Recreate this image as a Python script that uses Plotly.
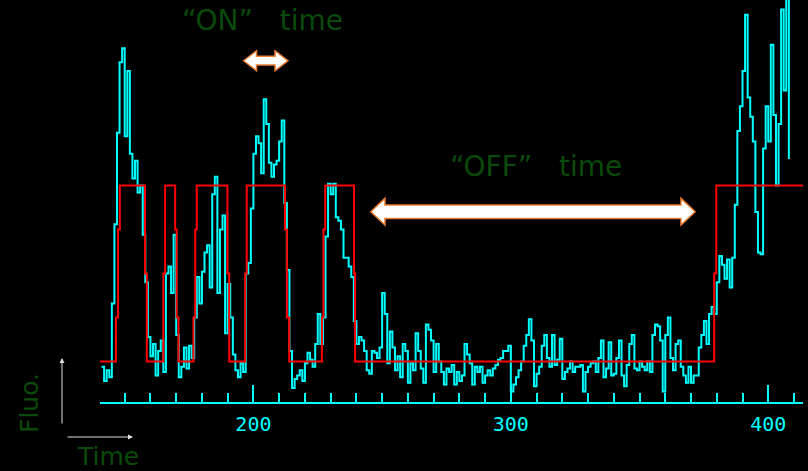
import plotly.graph_objects as go

# ---------------- data ----------------
cyan_t = list(range(141, 409))
cyan_v = [
    -3, -11, -5, -9, 33, 78, 130, 170, 178, 128,        # 141-150
    165, 118, 104, 114, 96, 100, 72, 45, 14, 3,         # 151-160
    10, -8, 6, 12, -6, 50, 54, 39, 72, 15,              # 161-170
    -9, -3, 8, -4, 9, 2, 25, 48, 33, 51,                # 171-180
    62, 66, 42, 95, 105, 39, 75, 83, 16, 44,            # 181-190
    25, 4, -5, -9, -1, -6, 50, 56, 87, 118,             # 191-200
    128, 124, 107, 149, 135, 113, 105, 112, 114, 125,   # 201-210
    137, 90, 52, 6, -15, -10, -8, -5, -11, -1,          # 211-220
    5, 1, -3, 10, 27, 10, 25, 71, 101, 95,              # 221-230
    101, 82, 80, 75, 59, 59, 54, 48, 23, 10,            # 231-240
    14, 12, 6, -5, -7, 6, 5, 2, 8, 39,                  # 241-250
    27, -1, 17, 8, -5, 3, -9, 10, 6, -12,               # 251-260
    -1, -5, 16, 6, -4, -12, 21, 18, 12, -6,             # 261-270
    10, 0, -6, -13, -4, -6, -2, -13, -6, -11,           # 271-280
    -8, 10, 4, -1, -13, -3, -6, -3, -12, -8,            # 281-290
    -5, -8, -4, -2, 1, 2, 6, 6, 9, -17,                 # 291-300
    -13, -9, -5, 0, 9, 15, 24, 12, -14, -7,             # 301-310
    -3, 9, 15, 2, -3, 15, -2, 1, 13, -10,               # 311-320
    -6, -4, 0, -6, -3, -3, -2, -17, -6, -3,             # 321-330
    -1, 0, -6, 2, 12, -9, -4, 11, -8, -7,               # 331-340
    2, 12, -8, -14, -2, 10, 15, -4, -5, 0,              # 341-350
    -3, -5, 0, -6, 15, 21, 20, 12, -17, 15,             # 351-360
    25, 2, -5, 10, 12, -3, -8, -12, -3, -12,            # 361-370
    -8, -8, 8, 15, 23, 10, 27, 31, 27, 45,              # 371-380
    60, 55, 47, 58, 42, 59, 89, 131, 145, 165,          # 381-390
    197, 150, 139, 125, 85, 62, 61, 121, 145, 125,      # 391-400
    180, 140, 100, 135, 200, 154, 210, 115,             # 401-408
]

red_t = [140.4, 146.6, 147.4, 148.1, 157.9, 158.6, 165.0, 165.7, 169.6, 170.2,
         170.9, 176.7, 177.4, 178.0, 189.9, 190.6, 196.8, 197.4, 212.3, 213.0,
         213.9, 226.6, 227.2, 227.9, 239.1, 239.5, 379.0, 379.8, 413.5]
red_v = [0, 25, 75, 100, 50, 0, 50, 100, 75, 25,
         0, 25, 75, 100, 50, 0, 50, 100, 75, 25,
         0, 25, 75, 100, 50, 0, 50, 100, 100]

tick_vals = [200, 300, 400]
tick_text = ["200", "300", "400"]

x_range = [140.4, 413.5]
y_range = [-23.0, 205.4]

# annotation placements (data units)
on_arrow = dict(x0=196.2, x1=213.4, head=5.0, yc=170.9, shaft=2.5, wing=5.7)
off_arrow = dict(x0=245.6, x1=371.6, head=5.5, yc=85.1, shaft=3.8, wing=7.6)

CYAN = "#00ffff"
RED = "#ff0000"
GREEN = "#0a4a0a"
ORANGE = "#ed7d31"

W, H = 808, 471
ML, MR, MT, MB = 100, 5, 0, 69


def px_to_paper(px, py):
    pw = W - ML - MR
    ph = H - MT - MB
    return (px - ML) / pw, (H - MB - py) / ph


def double_arrow(a):
    x0, x1, hd, yc, s, w = a["x0"], a["x1"], a["head"], a["yc"], a["shaft"], a["wing"]
    pts = [(x0, yc), (x0 + hd, yc + w), (x0 + hd, yc + s), (x1 - hd, yc + s),
           (x1 - hd, yc + w), (x1, yc), (x1 - hd, yc - w), (x1 - hd, yc - s),
           (x0 + hd, yc - s), (x0 + hd, yc - w)]
    return "M " + " L ".join(f"{x},{y}" for x, y in pts) + " Z"


fig = go.Figure()
fig.add_trace(go.Scatter(x=cyan_t, y=cyan_v, mode="lines",
                         line=dict(color=CYAN, width=2, shape="hv"),
                         hoverinfo="skip", showlegend=False))
fig.add_trace(go.Scatter(x=red_t, y=red_v, mode="lines",
                         line=dict(color=RED, width=2, shape="hv"),
                         hoverinfo="skip", showlegend=False))

shapes = []
for a in (on_arrow, off_arrow):
    shapes.append(dict(type="path", xref="x", yref="y", path=double_arrow(a),
                       fillcolor="white", line=dict(color=ORANGE, width=1.5),
                       layer="above"))

annotations = [
    dict(x=203.7, y=194, xref="x", yref="y", text="\u201cON\u201d\u00a0\u00a0\u00a0time",
         showarrow=False, xanchor="center", yanchor="middle",
         font=dict(family="DejaVu Sans", size=28, color=GREEN)),
    dict(x=309.8, y=111, xref="x", yref="y", text="\u201cOFF\u201d\u00a0\u00a0\u00a0time",
         showarrow=False, xanchor="center", yanchor="middle",
         font=dict(family="DejaVu Sans", size=28, color=GREEN)),
]
fx, fy = px_to_paper(29, 403)
annotations.append(dict(x=fx, y=fy, xref="paper", yref="paper", text="Fluo.",
                        textangle=-90, showarrow=False,
                        xanchor="center", yanchor="middle",
                        font=dict(family="DejaVu Sans", size=25, color=GREEN)))
tx, ty = px_to_paper(108, 456)
annotations.append(dict(x=tx, y=ty, xref="paper", yref="paper", text="Time",
                        showarrow=False, xanchor="center", yanchor="middle",
                        font=dict(family="DejaVu Sans", size=25, color=GREEN)))
vx, vy = px_to_paper(62, 358)
annotations.append(dict(x=vx, y=vy, xref="paper", yref="paper", text="",
                        showarrow=True, ax=0, ay=67, arrowhead=2, arrowsize=1,
                        arrowwidth=1, arrowcolor="#e0e0e0"))
hx, hy = px_to_paper(133, 437)
annotations.append(dict(x=hx, y=hy, xref="paper", yref="paper", text="",
                        showarrow=True, ax=-67, ay=0, arrowhead=2, arrowsize=1,
                        arrowwidth=1, arrowcolor="#e0e0e0"))

fig.update_layout(
    width=W, height=H,
    margin=dict(l=ML, r=MR, t=MT, b=MB, pad=0),
    paper_bgcolor="black", plot_bgcolor="black",
    shapes=shapes, annotations=annotations,
    showlegend=False,
    xaxis=dict(range=x_range, showgrid=False, zeroline=False,
               showline=True, linecolor=CYAN, linewidth=2,
               ticks="inside", ticklen=17, tickwidth=2, tickcolor=CYAN,
               tickmode="array", tickvals=tick_vals, ticktext=tick_text,
               tickfont=dict(family="DejaVu Sans Mono", size=20, color=CYAN),
               ticklabelstandoff=3,
               minor=dict(tickmode="linear", tick0=0, dtick=10, ticks="inside",
                          ticklen=9, tickwidth=2, tickcolor=CYAN)),
    yaxis=dict(range=y_range, visible=False, showgrid=False, zeroline=False),
)

fig.write_html("out.html")
